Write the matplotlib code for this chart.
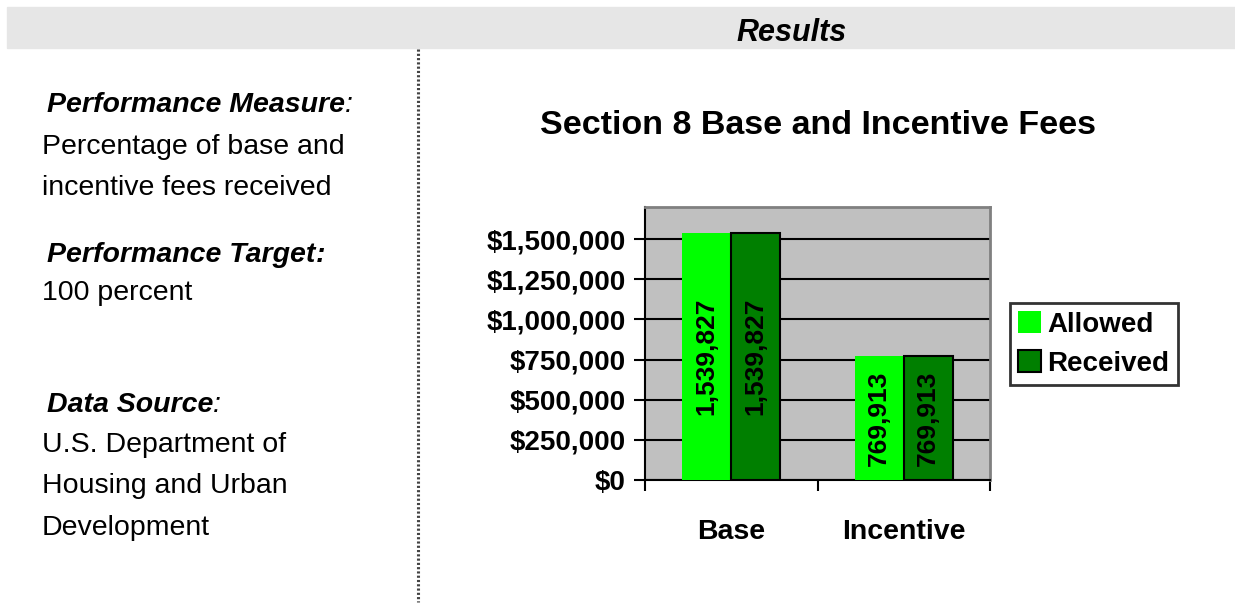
import matplotlib.pyplot as plt
from matplotlib.patches import Rectangle
from matplotlib.lines import Line2D

categories = ["Base", "Incentive"]
allowed = [1539827, 769913]
received = [1539827, 769913]
series_names = ["Allowed", "Received"]
y_ticks = [0, 250000, 500000, 750000, 1000000, 1250000, 1500000]

FONT = "Liberation Sans"
plt.rcParams["font.family"] = FONT

fig = plt.figure(figsize=(12.35, 6.04), dpi=100)

# header band and divider
fig.patches.append(Rectangle((7 / 1235, 1 - 48 / 604), 1 - 7 / 1235, 41 / 604,
                             transform=fig.transFigure, color="#e6e6e6", zorder=0))
fig.text(792 / 1235, 1 - 33 / 604, "Results", fontsize=22, fontweight="bold",
         fontstyle="italic", ha="center", va="center")
fig.lines.append(Line2D([418 / 1235, 418 / 1235], [1 - 49 / 604, 1 - 602 / 604],
                        transform=fig.transFigure, color="#444444", lw=2.2,
                        linestyle=(0, (0.7, 0.7))))

# left-hand text
def heading(y, txt, colon_bold):
    t = fig.text(47 / 1235, 1 - y / 604, txt, fontsize=20.5, fontweight="bold",
                 fontstyle="italic", va="center", ha="left")
    plt.annotate(":", xy=(1, 0.5), xycoords=t, va="center", ha="left",
                 fontsize=20.5, fontstyle="italic",
                 fontweight="bold" if colon_bold else "normal")

body = [(147, "Percentage of base and"), (188, "incentive fees received"),
        (293, "100 percent"), (445, "U.S. Department of"),
        (486, "Housing and Urban"), (528, "Development")]
for y, txt in body:
    fig.text(42 / 1235, 1 - y / 604, txt, fontsize=20.5, va="center", ha="left")

ax = fig.add_axes([645 / 1235, 1 - 480 / 604, 345 / 1235, 273 / 604])
heading(105, "Performance Measure", False)
heading(255, "Performance Target", True)
heading(405, "Data Source", False)

ax.set_facecolor("#c0c0c0")
x = range(len(categories))
w = 0.285
ax.bar([i - w / 2 for i in x], allowed, width=w, color="#00ff00",
       label=series_names[0], zorder=3)
ax.bar([i + w / 2 for i in x], received, width=w, color="#007f00",
       edgecolor="black", linewidth=1.5, label=series_names[1], zorder=3)

for i in x:
    ax.text(i - w / 2, allowed[i] / 2, f"{allowed[i]:,}", rotation=90,
            ha="center", va="center", fontsize=19, fontweight="bold", zorder=4)
    ax.text(i + w / 2, received[i] / 2, f"{received[i]:,}", rotation=90,
            ha="center", va="center", fontsize=19, fontweight="bold", zorder=4)

ax.set_xlim(-0.5, 1.5)
ax.set_ylim(0, 1700000)
ax.set_yticks(y_ticks)
ax.set_yticklabels([f"${v:,}" for v in y_ticks], fontsize=20, fontweight="bold")
ax.yaxis.grid(True, color="black", lw=1.5, zorder=1)
ax.set_axisbelow(True)
ax.set_xticks([-0.5, 0.5, 1.5])
ax.set_xticklabels([])
ax.set_xticks([0, 1], minor=True)
ax.set_xticklabels(categories, minor=True, fontsize=20.5, fontweight="bold")
ax.tick_params(axis="x", which="minor", length=0, pad=28)
ax.tick_params(axis="x", which="major", length=8, width=1.5, direction="out")
ax.tick_params(axis="y", length=8, width=1.5, direction="out", pad=6)
for s in ["left", "bottom"]:
    ax.spines[s].set_color("black")
    ax.spines[s].set_linewidth(1.5)
for s in ["top", "right"]:
    ax.spines[s].set_color("#808080")
    ax.spines[s].set_linewidth(2)

ax.set_title("Section 8 Base and Incentive Fees", fontsize=24.5, fontweight="bold",
             pad=0, y=(480 - 125) / 273, va="center")

leg = ax.legend(loc="center left", bbox_to_anchor=(1010 / 1235, 1 - 344 / 604),
                bbox_transform=fig.transFigure, frameon=True,
                fancybox=False, edgecolor="black", handlelength=0.8,
                handleheight=0.8, handletextpad=0.25, borderpad=0.3,
                labelspacing=0.45, borderaxespad=0,
                prop={"weight": "bold", "size": 20, "family": FONT})
leg.get_frame().set_linewidth(2)

fig.savefig("out.png", dpi=100)
